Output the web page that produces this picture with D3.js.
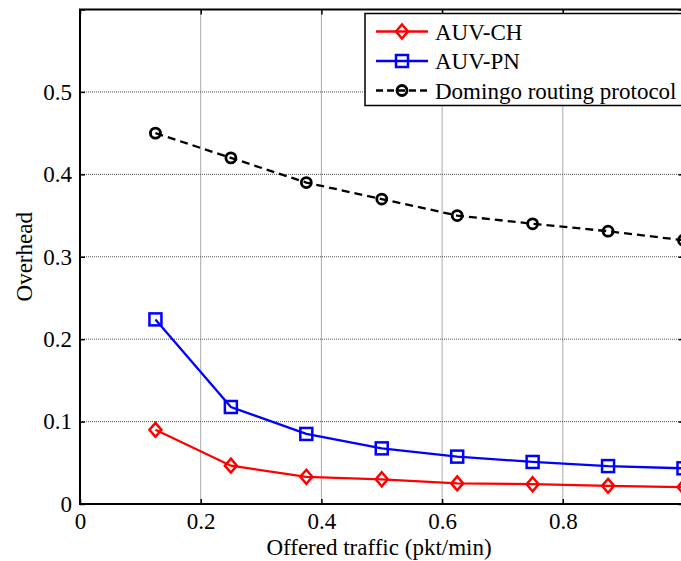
<!DOCTYPE html>
<html><head><meta charset="utf-8">
<script src="https://cdn.jsdelivr.net/npm/d3@7"></script>
<style>html,body{margin:0;padding:0;background:#fff;}svg{display:block;}</style>
</head><body>
<script>
const xValues = [0.125, 0.25, 0.375, 0.5, 0.625, 0.75, 0.875, 1.0];
const auvCH = [0.090, 0.0465, 0.033, 0.030, 0.025, 0.024, 0.022, 0.0205];
const auvPN = [0.224, 0.1177, 0.085, 0.0675, 0.0575, 0.051, 0.046, 0.0433];
const domingo = [0.450, 0.420, 0.390, 0.370, 0.350, 0.340, 0.331, 0.320];
const xTicks = [0, 0.2, 0.4, 0.6, 0.8, 1.0];
const xTickLabels = ["0", "0.2", "0.4", "0.6", "0.8", ""];
const yTicks = [0, 0.1, 0.2, 0.3, 0.4, 0.5, 0.6];
const yTickLabels = ["0", "0.1", "0.2", "0.3", "0.4", "0.5", ""];
const seriesNames = ["AUV-CH", "AUV-PN", "Domingo routing protocol"];

const W = 681, H = 561;
const L = 80, R = 683.5, T = 9.5, B = 504;
const font = "Liberation Serif";
const fs = 23;

const svg = d3.select("body").append("svg").attr("width", W).attr("height", H)
  .style("font-family", font);
const x = d3.scaleLinear().domain([0, 1]).range([L, R]);
const y = d3.scaleLinear().domain([0, 0.6]).range([B, T]);

// grid
const grid = svg.append("g");
grid.selectAll(".gx").data(xTicks.filter(d => d > 0 && d < 1)).join("line")
  .attr("x1", d => x(d)).attr("x2", d => x(d)).attr("y1", T).attr("y2", B)
  .attr("stroke", "#555").attr("stroke-width", 1).attr("stroke-dasharray", "1,1");
grid.selectAll(".gy").data(yTicks.filter(d => d > 0 && d < 0.6)).join("line")
  .attr("y1", d => y(d)).attr("y2", d => y(d)).attr("x1", L).attr("x2", R)
  .attr("stroke", "#555").attr("stroke-width", 1).attr("stroke-dasharray", "1,1");

// axes (inward ticks)
const xAxisB = d3.axisBottom(x).tickValues(xTicks).tickSize(-5).tickPadding(9)
  .tickFormat((d, i) => xTickLabels[i]);
const xAxisT = d3.axisTop(x).tickValues(xTicks).tickSize(-5).tickFormat("");
const yAxisL = d3.axisLeft(y).tickValues(yTicks).tickSize(-5).tickPadding(8)
  .tickFormat((d, i) => yTickLabels[i]);
const yAxisR = d3.axisRight(y).tickValues(yTicks).tickSize(-5).tickFormat("");

function styleAxis(g) {
  g.attr("font-family", font).attr("font-size", fs);
  g.select(".domain").remove();
  g.selectAll(".tick line").attr("stroke", "#000").attr("stroke-width", 1.5);
  g.selectAll("text").attr("font-family", font).attr("font-size", fs).attr("fill", "#000");
}
svg.append("g").attr("transform", `translate(0,${B})`).call(xAxisB).call(styleAxis);
svg.append("g").attr("transform", `translate(0,${T})`).call(xAxisT).call(styleAxis);
svg.append("g").attr("transform", `translate(${L},0)`).call(yAxisL).call(styleAxis);
svg.append("g").attr("transform", `translate(${R},0)`).call(yAxisR).call(styleAxis);

// frame
svg.append("rect").attr("x", L).attr("y", T).attr("width", R - L).attr("height", B - T)
  .attr("fill", "none").attr("stroke", "#000").attr("stroke-width", 2);

// series
const line = d3.line().x((d, i) => x(xValues[i])).y(d => y(d));
const series = [
  {name: seriesNames[0], data: auvCH, color: "#ff0000", dash: null, marker: "diamond"},
  {name: seriesNames[1], data: auvPN, color: "#0000ff", dash: null, marker: "square"},
  {name: seriesNames[2], data: domingo, color: "#000000", dash: "8,5", marker: "circle"}
];

function drawMarker(g, type, cx, cy, color) {
  if (type === "diamond") {
    g.append("path").attr("d", `M${cx},${cy-7} L${cx+6},${cy} L${cx},${cy+7} L${cx-6},${cy} Z`)
      .attr("fill", "none").attr("stroke", color).attr("stroke-width", 2.5);
  } else if (type === "square") {
    g.append("rect").attr("x", cx - 6).attr("y", cy - 6).attr("width", 12).attr("height", 12)
      .attr("fill", "none").attr("stroke", color).attr("stroke-width", 2.5);
  } else {
    g.append("circle").attr("cx", cx).attr("cy", cy).attr("r", 5)
      .attr("fill", "none").attr("stroke", color).attr("stroke-width", 2.8);
  }
}

series.forEach(s => {
  const g = svg.append("g");
  g.append("path").datum(s.data).attr("d", line).attr("fill", "none")
    .attr("stroke", s.color).attr("stroke-width", 2.3)
    .attr("stroke-dasharray", s.dash);
  s.data.forEach((v, i) => drawMarker(g, s.marker, x(xValues[i]), y(v), s.color));
});

// legend
const lg = svg.append("g");
lg.append("rect").attr("x", 365).attr("y", 13.5).attr("width", 330).attr("height", 92)
  .attr("fill", "#fff").attr("stroke", "#000").attr("stroke-width", 1.5);
series.forEach((s, i) => {
  const cy = 31.5 + i * 29.5;
  lg.append("line").attr("x1", 376).attr("x2", 428).attr("y1", cy).attr("y2", cy)
    .attr("stroke", s.color).attr("stroke-width", 2.3).attr("stroke-dasharray", s.dash ? "7,4" : null);
  drawMarker(lg, s.marker, 402, cy, s.color);
  lg.append("text").attr("x", 435).attr("y", cy).attr("dy", "0.35em")
    .attr("font-family", font).attr("font-size", fs).text(s.name);
});

// axis labels
svg.append("text").attr("x", 379).attr("y", 555)
  .attr("text-anchor", "middle").attr("font-family", font).attr("font-size", fs)
  .text("Offered traffic (pkt/min)");
svg.append("text").attr("transform", `translate(32,${(T + B) / 2}) rotate(-90)`)
  .attr("text-anchor", "middle").attr("font-family", font).attr("font-size", fs)
  .text("Overhead");
</script>
</body></html>
